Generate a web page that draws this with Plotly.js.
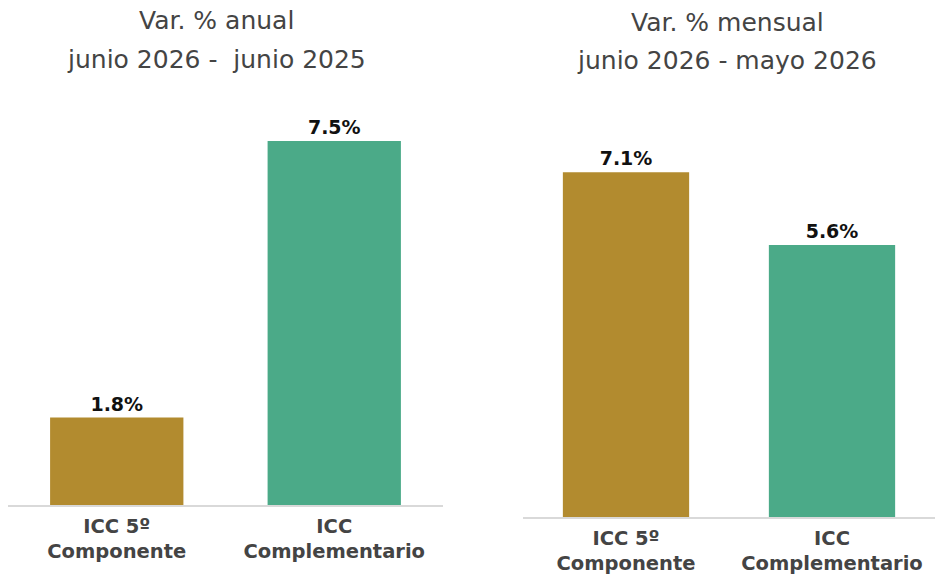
<!DOCTYPE html>
<html>
<head>
<meta charset="utf-8">
<script src="https://cdn.plot.ly/plotly-3.0.1.min.js"></script>
<style>html,body{margin:0;padding:0;background:#fff;}#chart{width:935px;height:577px;}</style>
</head>
<body>
<div id="chart"></div>
<script>
const categories = ['ICC 5º Componente', 'ICC Complementario'];
const tickLabels = ['ICC 5º<br>Componente', 'ICC<br>Complementario'];
const anualValues = [1.8, 7.5];
const mensualValues = [7.1, 5.6];
const barColors = ['#B28B2F', '#4BAA88'];
const titleAnualLines = ['Var. % anual', 'junio 2026 -\u00a0\u00a0junio 2025'];
const titleMensualLines = ['Var. % mensual', 'junio 2026 - mayo 2026'];

const W = 935, H = 577;
const FONT = 'DejaVu Sans, sans-serif';
const fmt = v => v.toFixed(1) + '%';

const traces = [
  {type:'bar', x:categories, y:anualValues, xaxis:'x', yaxis:'y',
   marker:{color:barColors}, text:anualValues.map(fmt), textposition:'outside',
   textfont:{family:FONT, size:19, color:'#111', weight:700}, cliponaxis:false, hoverinfo:'skip'},
  {type:'bar', x:categories, y:mensualValues, xaxis:'x2', yaxis:'y2',
   marker:{color:barColors}, text:mensualValues.map(fmt), textposition:'outside',
   textfont:{family:FONT, size:19, color:'#111', weight:700}, cliponaxis:false, hoverinfo:'skip'}
];

const pxPerUnit = 48.55;
const base1 = 505, base2 = 517;
const xAxisCommon = {
  type:'category', showline:true, linecolor:'#d9d9d9', linewidth:1.5,
  ticks:'', showgrid:false, zeroline:false, fixedrange:true,
  tickmode:'array', tickvals:categories, ticktext:tickLabels,
  tickfont:{family:FONT, size:19.5, color:'#444', weight:700}, ticklabelstandoff:3
};
const yAxisCommon = {showticklabels:false, showgrid:false, zeroline:false, showline:false, ticks:'', fixedrange:true};

function titleAnn(text, xPx, yPx) {
  return {text:text, xref:'paper', yref:'paper', x:xPx/W, y:1-yPx/H, xanchor:'center', yanchor:'middle',
          showarrow:false, font:{family:FONT, size:25, color:'#444'}, align:'center'};
}

const layout = {
  width:W, height:H, margin:{l:0, r:0, t:0, b:0},
  paper_bgcolor:'#fff', plot_bgcolor:'#fff', showlegend:false, bargap:0.387,
  font:{family:FONT},
  xaxis:Object.assign({}, xAxisCommon, {domain:[8/W, 443/W], anchor:'y'}),
  yaxis:Object.assign({}, yAxisCommon, {domain:[(H-base1)/H, 1], range:[0, base1/pxPerUnit], anchor:'x'}),
  xaxis2:Object.assign({}, xAxisCommon, {domain:[523/W, 1], anchor:'y2'}),
  yaxis2:Object.assign({}, yAxisCommon, {domain:[(H-base2)/H, 1], range:[0, base2/pxPerUnit], anchor:'x2'}),
  annotations:[
    titleAnn(titleAnualLines[0], 216, 20),
    titleAnn(titleAnualLines[1], 216, 59),
    titleAnn(titleMensualLines[0], 727, 22),
    titleAnn(titleMensualLines[1], 727, 60)
  ]
};

Plotly.newPlot('chart', traces, layout, {displayModeBar:false, staticPlot:true});
</script>
</body>
</html>
